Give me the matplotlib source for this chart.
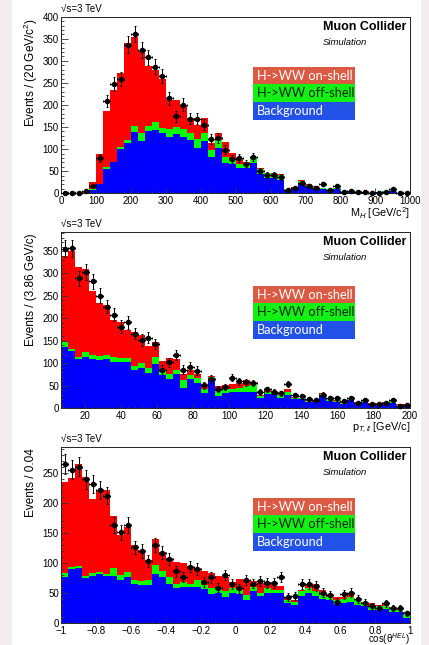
import numpy as np
import matplotlib
matplotlib.use("Agg")
import matplotlib.pyplot as plt
from matplotlib.patches import Rectangle
from matplotlib.ticker import MultipleLocator, FuncFormatter

plt.rcParams['font.family'] = ['Liberation Sans', 'DejaVu Sans']
plt.rcParams['mathtext.fontset'] = 'custom'
plt.rcParams['mathtext.rm'] = 'Liberation Sans'
plt.rcParams['mathtext.it'] = 'Liberation Sans:italic'
plt.rcParams['mathtext.bf'] = 'Liberation Sans:bold'

# ---------------- data ----------------
# Panel 1: M_H, 50 bins 0..1000 GeV
mh_range = (0, 1000)
mh_bkg = [1, 0.5, 1, 1, 8, 20, 55, 70, 100, 113, 139, 118, 140, 143, 136, 128, 134, 128, 121, 103,
          118, 83, 102, 68, 66, 57, 57, 68, 43, 35, 34, 30, 8, 11, 24, 15, 13, 10, 8, 9,
          4, 4, 4, 2, 1.5, 2, 4, 6, 1, 1]
mh_off = [0, 0, 0, 0, 1, 2, 4, 2, 6, 8, 13, 18, 12, 18, 13, 18, 17, 18, 16, 19,
          18, 15, 19, 15, 9, 9, 9, 15, 11, 10, 10, 11, 1, 2, 4, 3, 2, 2, 1, 3,
          1, 1, 0.5, 0.5, 0.5, 0.5, 0.5, 1, 0, 0]
mh_on = [0, 0, 0, 4, 17, 67, 128, 162, 167, 219, 201, 187, 136, 118, 111, 65, 60, 54, 33, 32,
         34, 17, 15, 33, 16, 12, 6, 0, 3, 2, 1, 3, 1, 1, 2, 2, 2, 1, 1, 1,
         1, 0, 0.5, 0.5, 0, 0.5, 0.5, 1, 0, 0]
mh_data = [0, 0, 0, 5, 17, 79, 209, 247, 259, 337, 361, 324, 308, 287, 265, 215, 174, 201, 169, 169,
           155, 123, 126, 99, 78, 79, 67, 82, 51, 42, 42, 37, 8, 13, 23, 17, 13, 22, 8, 16,
           2, 5, 4, 2, 0, 0, 2, 10, 0, 0]

# Panel 2: pT, 50 bins 7..200 GeV/c
pt_range = (7, 200)
pt_bkg = [137, 127, 109, 115, 110, 107, 110, 104, 102, 104, 85, 90, 78, 98, 74, 65, 76, 46, 65, 57,
          33, 67, 27, 35, 37, 37, 37, 37, 22, 31, 31, 22, 30, 21, 21, 15, 13, 27, 17, 15,
          9, 19, 10, 13, 9, 9, 10, 11, 6, 6]
pt_off = [11, 6, 6, 10, 9, 10, 9, 11, 11, 7, 9, 10, 11, 17, 11, 11, 9, 17, 9, 10,
          10, 3, 12, 8, 7, 9, 13, 16, 5, 6, 5, 8, 6, 3, 2, 2, 2, 4, 3, 2,
          2, 3, 2, 4, 1, 1, 2, 5, 2, 2]
pt_on = [192, 217, 199, 186, 142, 117, 111, 81, 78, 63, 76, 63, 50, 33, 21, 35, 25, 13, 11, 9,
         10, 2, 11, 9, 9, 10, 13, 6, 3, 6, 3, 7, 7, 2, 1, 2, 1, 2, 2, 2,
         2, 2, 1, 2, 1, 1, 1, 2, 1, 1]
pt_data = [355, 356, 289, 304, 283, 251, 226, 208, 182, 191, 166, 152, 157, 143, 86, 102, 119, 86, 93, 84,
           51, 65, 44, 48, 68, 60, 58, 56, 36, 42, 37, 33, 54, 29, 27, 21, 18, 30, 22, 22,
           17, 22, 12, 18, 10, 10, 11, 19, 6, 7]

# Panel 3: cos(theta_HEL), 50 bins -1..1
ct_range = (-1, 1)
ct_bkg = [76, 90, 91, 75, 78, 81, 79, 78, 72, 76, 66, 64, 64, 81, 76, 66, 58, 61, 60, 61,
          57, 48, 50, 44, 51, 48, 38, 53, 46, 50, 50, 50, 33, 30, 46, 50, 46, 41, 39, 32,
          33, 36, 30, 28, 22, 22, 23, 19, 18, 8]
ct_off = [8, 4, 4, 4, 5, 4, 2, 13, 8, 9, 6, 6, 8, 15, 10, 11, 8, 7, 6, 11,
          7, 10, 8, 9, 8, 7, 9, 8, 5, 8, 6, 6, 6, 5, 7, 8, 8, 6, 5, 7,
          8, 7, 8, 5, 7, 6, 6, 6, 4, 7]
ct_on = [150, 147, 170, 164, 123, 136, 140, 87, 66, 75, 58, 52, 33, 44, 33, 32, 36, 32, 29, 19,
         23, 25, 21, 24, 10, 18, 25, 9, 16, 11, 9, 6, 4, 4, 2, 8, 11, 8, 4, 5,
         3, 5, 3, 3, 4, 2, 3, 2, 3, 3]
ct_data = [264, 255, 260, 239, 231, 221, 212, 163, 151, 163, 126, 120, 103, 130, 117, 107, 86, 77, 94, 90,
           69, 76, 59, 80, 65, 58, 72, 66, 70, 67, 67, 77, 44, 45, 65, 65, 62, 51, 47, 36,
           48, 51, 40, 34, 28, 26, 33, 25, 25, 17]

legend_labels = ["H->WW on-shell", "H->WW off-shell", "Background"]

# ---------------- figure ----------------
W, H = 429, 645
fig = plt.figure(figsize=(W / 100, H / 100), dpi=100)
fig.patch.set_facecolor('#f4ecf1')
fig.add_artist(Rectangle((12 / W, 0), (421 - 12) / W, 1, transform=fig.transFigure,
                         facecolor='white', edgecolor='none', zorder=-10))

RED, GREEN, BLUE = '#ff0000', '#00ff00', '#0000ff'
LEG_COLORS = ['#db5a44', '#14f014', '#2251e8']
LEG_TEXT = ['white', '#102810', 'white']

ax_left = 61.3
ax_right = 410.0
ax_h = 176.6


def make_axes(top_px):
    return fig.add_axes([ax_left / W, (H - top_px - ax_h) / H, (ax_right - ax_left) / W, ax_h / H])


def panel(ax, rng, bkg, off, on, data, ylim, xmaj, xmin, xlabel, ylabel, leg_top,
          xfmt=None, xlab_y=-0.113, xlab_size=7.8, xlab_va='center'):
    bkg = np.asarray(bkg, float)
    off = np.asarray(off, float)
    on = np.asarray(on, float)
    data = np.asarray(data, float)
    n = len(bkg)
    edges = np.linspace(rng[0], rng[1], n + 1)
    w = edges[1] - edges[0]
    ax.bar(edges[:-1], bkg, width=w, align='edge', color=BLUE, linewidth=0, zorder=2)
    ax.bar(edges[:-1], off, width=w, bottom=bkg, align='edge', color=GREEN, linewidth=0, zorder=2)
    ax.bar(edges[:-1], on, width=w, bottom=bkg + off, align='edge', color=RED, linewidth=0, zorder=2)
    centers = 0.5 * (edges[:-1] + edges[1:])
    ax.errorbar(centers, data, yerr=np.sqrt(data), xerr=w / 2, fmt='o', color='black',
                ms=3.0, elinewidth=0.7, capsize=1.0, capthick=0.7, zorder=5, clip_on=False)
    ax.set_xlim(*rng)
    ax.set_ylim(*ylim)
    ax.xaxis.set_major_locator(MultipleLocator(xmaj))
    ax.xaxis.set_minor_locator(MultipleLocator(xmin))
    ax.yaxis.set_major_locator(MultipleLocator(50))
    ax.yaxis.set_minor_locator(MultipleLocator(10))
    if xfmt is not None:
        ax.xaxis.set_major_formatter(xfmt)
    ax.tick_params(which='both', direction='in', top=False, right=False, labelsize=7,
                   width=0.6, color='#333333')
    ax.tick_params(axis='y', which='major', length=5, pad=1.8)
    ax.tick_params(axis='y', which='minor', length=2.5)
    ax.tick_params(axis='x', which='major', length=3.6, pad=1.8)
    ax.tick_params(axis='x', which='minor', length=1.8)
    for s in ax.spines.values():
        s.set_linewidth(0.7)
        s.set_color('#222222')
    ax.set_axisbelow(False)
    # titles
    ax.text(-0.088, 0.993, ylabel, rotation=90, ha='center', va='top', fontsize=8.5,
            transform=ax.transAxes)
    ax.text(1.0, xlab_y, xlabel, ha='right', va=xlab_va, fontsize=xlab_size,
            transform=ax.transAxes)
    ax.text(0.0, 1.043, '√s=3 TeV', ha='left', va='center', fontsize=7.0, transform=ax.transAxes)
    ax.text(0.9885, 0.943, 'Muon Collider', ha='right', va='center', fontsize=9.0,
            fontweight='bold', transform=ax.transAxes)
    ax.text(0.7505, 0.853, 'Simulation', ha='left', va='center', fontsize=6.8,
            style='italic', transform=ax.transAxes)
    # legend boxes
    x0, x1 = 0.550, 0.842
    row_h = 0.1
    for i, (lab, c, tc) in enumerate(zip(legend_labels, LEG_COLORS, LEG_TEXT)):
        ytop = 1 - leg_top - i * row_h
        ax.add_patch(Rectangle((x0, ytop - row_h), x1 - x0, row_h, transform=ax.transAxes,
                               facecolor=c, edgecolor='none', zorder=6, clip_on=False))
        ax.text(x0 + 0.012, ytop - row_h / 2, lab, ha='left', va='center', fontsize=9.2,
                color=tc, family=['Lato', 'DejaVu Sans'], transform=ax.transAxes, zorder=7)


def cos_fmt(v, pos):
    if abs(v) < 1e-9:
        return '0'
    if abs(abs(v) - 1) < 1e-9:
        return ('\u2212' if v < 0 else '') + '1'
    return ('\u2212' if v < 0 else '') + ('%.1f' % abs(v))


ax1 = make_axes(16.7)
panel(ax1, mh_range, mh_bkg, mh_off, mh_on, mh_data, (0, 400), 100, 20,
      'M$_{H}$ [GeV/c$^{2}$]', 'Events / (20 GeV/c$^{2}$)', 0.283)

ax2 = make_axes(231.7)
panel(ax2, pt_range, pt_bkg, pt_off, pt_on, pt_data, (0, 393), 20, 4,
      'p$_{T,ll}$ [GeV/c]', 'Events / (3.86 GeV/c)', 0.306)

ax3 = make_axes(446.7)
panel(ax3, ct_range, ct_bkg, ct_off, ct_on, ct_data, (0, 293), 0.2, 0.04,
      'cos(\u03b8$^{HEL}$)', 'Events / 0.04', 0.289, xfmt=FuncFormatter(cos_fmt),
      xlab_y=-0.1125, xlab_size=6.9, xlab_va='baseline')

fig.savefig('out.png', dpi=100, facecolor=fig.get_facecolor())
